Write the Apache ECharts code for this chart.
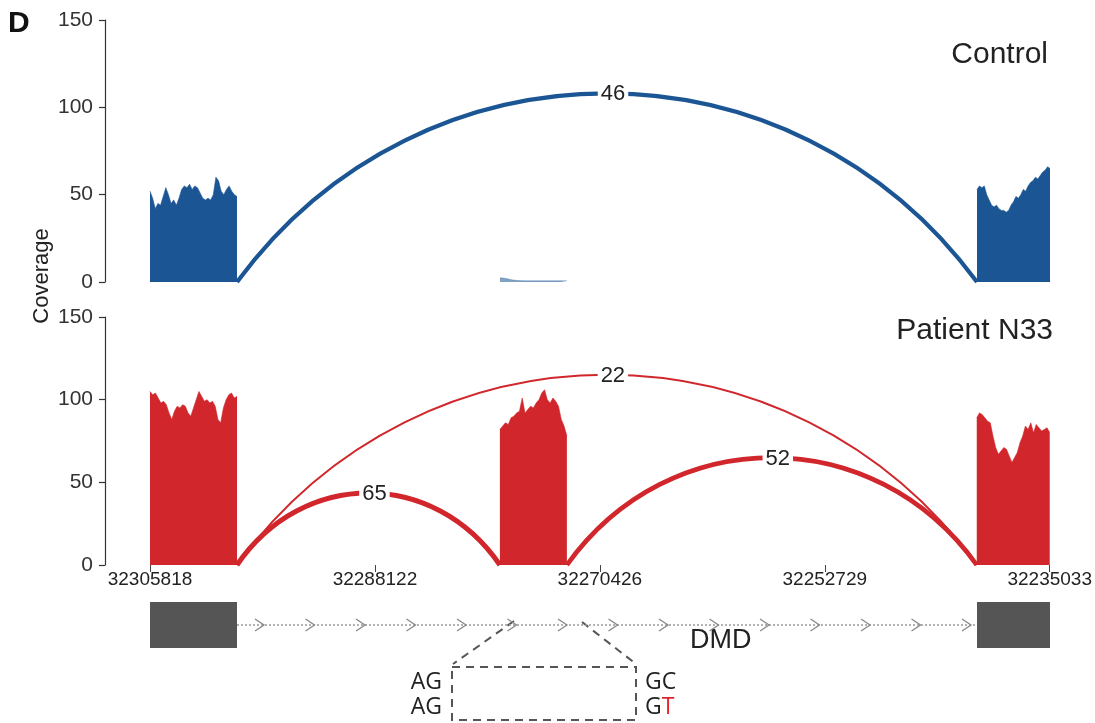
<!DOCTYPE html>
<html><head><meta charset="utf-8">
<script src="https://cdn.jsdelivr.net/npm/echarts@6/dist/echarts.min.js"></script>
<style>html,body{margin:0;padding:0;background:#fff}#c{width:1095px;height:723px}</style>
</head><body><div id="c"></div>
<script>
// Genomic range (displayed right-to-left in genome coordinates)
const X_MIN = 32235033, X_MAX = 32305818;
const X_TICKS = [32305818, 32288122, 32270426, 32252729, 32235033];
const Y_TICKS = [0, 50, 100, 150];

// Exons, listed left to right in display order: [left edge, right edge]
const EXON_1 = [32305818, 32298975];
const EXON_2 = [32278290, 32273021];
const EXON_3 = [32240774, 32235033];

// Coverage values, left to right across each exon
const CONTROL_EXON_1 = [52, 48, 42, 45, 44, 49, 54, 50, 45, 47, 44, 48, 53, 55, 54, 56, 53, 55, 54, 51, 48, 47, 48, 47, 50, 60, 58, 52, 50, 53, 55, 52, 50, 49];
const CONTROL_EXON_2 = [2.5, 2, 1.2, 0.8, 0.7, 0.7, 0.7, 0.7, 0.7, 0.7, 0.7, 0.7];
const CONTROL_EXON_3 = [53, 55, 54, 55, 50, 47, 44, 43, 44, 42, 41, 41, 40, 41, 44, 46, 49, 48, 50, 53, 52, 55, 57, 58, 60, 59, 61, 63, 64, 66, 65];
const PATIENT_EXON_1 = [105, 103, 104, 101, 98, 99, 97, 92, 88, 93, 96, 95, 97, 96, 92, 90, 95, 100, 105, 102, 99, 100, 98, 99, 96, 88, 86, 95, 100, 103, 104, 101, 102];
const PATIENT_EXON_2 = [82, 84, 86, 85, 89, 90, 92, 93, 101, 92, 94, 96, 95, 98, 100, 104, 106, 100, 98, 101, 99, 96, 88, 84, 78];
const PATIENT_EXON_3 = [89, 92, 91, 89, 87, 86, 78, 71, 67, 69, 71, 70, 66, 62, 65, 68, 74, 78, 84, 82, 86, 80, 85, 83, 81, 82, 83, 80];

// Splice junctions: [from, to, read count, arc peak height]
const CONTROL_JUNCTIONS = [[32298975, 32240774, 46, 108]];
const PATIENT_JUNCTIONS = [
  [32298975, 32240774, 22, 115],
  [32298975, 32278290, 65, 43.5],
  [32273021, 32240774, 52, 65]
];

// Gene model (DMD): exon boxes and intron
const GENE_EXONS = [EXON_1, EXON_3];
const GENE_INTRON = [32298975, 32240774];

const BLUE = '#1b5593', RED = '#d0262c', FONT = '"Liberation Sans", Arial, sans-serif';

function coverageSeries(exon, values, idx, color, opacity) {
  const step = (exon[1] - exon[0]) / (values.length - 1);
  return {
    type: 'line', xAxisIndex: idx, yAxisIndex: idx, silent: true, animation: false,
    data: values.map((v, i) => [exon[0] + step * i, v]),
    symbol: 'none', lineStyle: { width: 0.6, color: color, opacity: opacity },
    areaStyle: { color: color, opacity: opacity }, z: 2
  };
}

function arcSeries(junctions, idx, color) {
  return {
    type: 'custom', xAxisIndex: idx, yAxisIndex: idx, coordinateSystem: 'cartesian2d',
    data: junctions, encode: { x: [0, 1], y: 3 }, silent: true, animation: false, z: 5,
    renderItem: function (params, api) {
      const a = api.value(0), b = api.value(1), n = api.value(2), h = api.value(3);
      const p0 = api.coord([a, 0]), p1 = api.coord([b, 0]), pk = api.coord([(a + b) / 2, h]);
      const w = p1[0] - p0[0];
      const cy = p0[1] - (p0[1] - pk[1]) / 0.75;
      return {
        type: 'group', children: [
          { type: 'bezierCurve',
            shape: { x1: p0[0], y1: p0[1], x2: p1[0], y2: p1[1],
              cpx1: p0[0] + 0.25 * w, cpy1: cy, cpx2: p1[0] - 0.25 * w, cpy2: cy },
            style: { stroke: color, lineWidth: Math.max(2, Math.min(n / 11, 5)), fill: null } },
          { type: 'text', x: pk[0] + 6, y: pk[1] + 1, z2: 10,
            style: { text: String(n), font: '22px ' + FONT, fill: '#222', align: 'center', verticalAlign: 'middle',
              textAlign: 'center', textVerticalAlign: 'middle', backgroundColor: '#fff', padding: [1, 3] } }
        ]
      };
    }
  };
}

const yAxisBase = {
  type: 'value', min: Y_TICKS[0], max: Y_TICKS[Y_TICKS.length - 1], interval: 50, offset: 45,
  axisLine: { show: true, lineStyle: { color: '#333', width: 1.2 } },
  axisTick: { show: true, length: 6, lineStyle: { color: '#333', width: 1.2 } },
  axisLabel: { fontSize: 21, color: '#333', margin: 12, fontFamily: FONT },
  splitLine: { show: false }
};
const xAxisHidden = { type: 'value', inverse: true, min: X_MIN, max: X_MAX, show: false };

const option = {
  animation: false,
  backgroundColor: '#fff',
  grid: [
    { left: 150, right: 45, top: 20, height: 262 },
    { left: 150, right: 45, top: 317, height: 248 },
    { left: 150, right: 45, top: 602, height: 46 }
  ],
  xAxis: [
    Object.assign({ gridIndex: 0 }, xAxisHidden),
    { gridIndex: 1, type: 'value', inverse: true, min: X_MIN, max: X_MAX,
      axisLine: { show: false },
      axisTick: { show: true, length: 7, lineStyle: { color: '#444' }, customValues: X_TICKS },
      axisLabel: { show: true, customValues: X_TICKS, formatter: v => String(Math.round(v)),
        fontSize: 19, color: '#222', margin: 5, fontFamily: FONT },
      splitLine: { show: false } },
    Object.assign({ gridIndex: 2 }, xAxisHidden)
  ],
  yAxis: [
    Object.assign({ gridIndex: 0 }, yAxisBase),
    Object.assign({ gridIndex: 1 }, yAxisBase),
    { gridIndex: 2, type: 'value', min: 0, max: 1, show: false }
  ],
  series: [
    coverageSeries(EXON_1, CONTROL_EXON_1, 0, BLUE, 1),
    coverageSeries(EXON_2, CONTROL_EXON_2, 0, BLUE, 0.55),
    coverageSeries(EXON_3, CONTROL_EXON_3, 0, BLUE, 1),
    coverageSeries(EXON_1, PATIENT_EXON_1, 1, RED, 1),
    coverageSeries(EXON_2, PATIENT_EXON_2, 1, RED, 1),
    coverageSeries(EXON_3, PATIENT_EXON_3, 1, RED, 1),
    arcSeries(CONTROL_JUNCTIONS, 0, BLUE),
    arcSeries(PATIENT_JUNCTIONS, 1, RED),
    { // intron line with strand chevrons
      type: 'custom', xAxisIndex: 2, yAxisIndex: 2, coordinateSystem: 'cartesian2d', silent: true,
      data: [GENE_INTRON], encode: { x: [0, 1] }, z: 2,
      renderItem: function (params, api) {
        const p0 = api.coord([api.value(0), 0.5]), p1 = api.coord([api.value(1), 0.5]);
        const children = [{ type: 'line', shape: { x1: p0[0], y1: p0[1], x2: p1[0], y2: p1[1] },
          style: { stroke: '#999', lineWidth: 1.5, lineDash: [2, 2] } }];
        const len = p1[0] - p0[0], n = 15, first = 24, step = (len - first - 9) / (n - 1);
        for (let i = 0; i < n; i++) {
          const x = p0[0] + first + step * i, y = p0[1];
          children.push({ type: 'polyline', shape: { points: [[x - 6, y - 6], [x + 3, y], [x - 6, y + 6]] },
            style: { stroke: '#888', lineWidth: 1.3, fill: null } });
        }
        return { type: 'group', children: children };
      }
    },
    { // exon boxes
      type: 'custom', xAxisIndex: 2, yAxisIndex: 2, coordinateSystem: 'cartesian2d', silent: true,
      data: GENE_EXONS, encode: { x: [0, 1] }, z: 3,
      renderItem: function (params, api) {
        const a = api.coord([api.value(0), 1]), b = api.coord([api.value(1), 0]);
        return { type: 'rect', shape: { x: a[0], y: a[1], width: b[0] - a[0], height: b[1] - a[1] },
          style: { fill: '#555' } };
      }
    }
  ],
  graphic: [
    { type: 'text', x: 8, y: 9, style: { text: 'D', font: 'bold 30px ' + FONT, fill: '#111' } },
    { type: 'text', x: 42, y: 276, rotation: Math.PI / 2,
      style: { text: 'Coverage', font: '22px ' + FONT, fill: '#222', align: 'center', verticalAlign: 'middle' } },
    { type: 'text', x: 1048, y: 55, style: { text: 'Control', font: '30px ' + FONT, fill: '#222', align: 'right', verticalAlign: 'middle' } },
    { type: 'text', x: 1053, y: 331, style: { text: 'Patient N33', font: '30px ' + FONT, fill: '#222', align: 'right', verticalAlign: 'middle' } },
    { type: 'text', x: 690, y: 641, style: { text: 'DMD', font: '27px ' + FONT, fill: '#222', align: 'left', verticalAlign: 'middle' } },
    { type: 'line', shape: { x1: 514, y1: 621, x2: 453, y2: 664 }, style: { stroke: '#555', lineWidth: 2, lineDash: [8, 6] } },
    { type: 'line', shape: { x1: 582, y1: 622, x2: 636, y2: 664 }, style: { stroke: '#555', lineWidth: 2, lineDash: [8, 6] } },
    { type: 'rect', shape: { x: 452, y: 667, width: 184, height: 53 }, style: { stroke: '#555', lineWidth: 2, lineDash: [8, 6], fill: null } },
    { type: 'text', x: 442, y: 682, style: { text: 'AG', font: '23px "Open Sans", sans-serif', fill: '#222', align: 'right', verticalAlign: 'middle' } },
    { type: 'text', x: 442, y: 707, style: { text: 'AG', font: '23px "Open Sans", sans-serif', fill: '#222', align: 'right', verticalAlign: 'middle' } },
    { type: 'text', x: 645, y: 682, style: { text: 'GC', font: '23px "Open Sans", sans-serif', fill: '#222', align: 'left', verticalAlign: 'middle' } },
    { type: 'text', x: 645, y: 707, style: { text: '{g|G}{t|T}', align: 'left', verticalAlign: 'middle',
      rich: { g: { font: '23px "Open Sans", sans-serif', fill: '#222' }, t: { font: '23px "Open Sans", sans-serif', fill: '#e0262c' } } } }
  ]
};

const chart = echarts.init(document.getElementById('c'), null, { renderer: 'canvas' });
chart.setOption(option);
</script>
</body></html>
